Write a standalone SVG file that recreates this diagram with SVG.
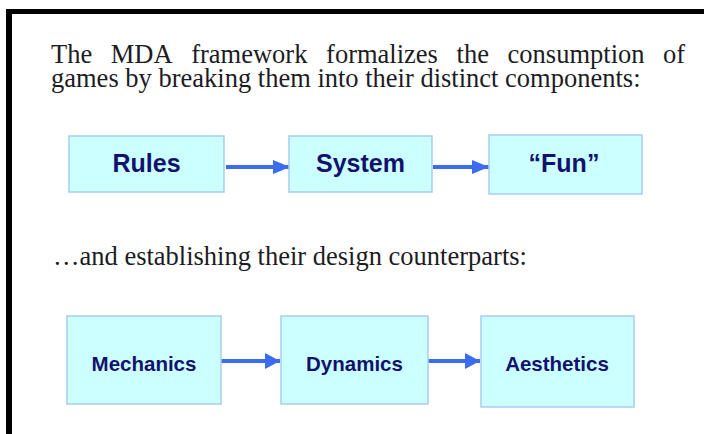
<svg xmlns="http://www.w3.org/2000/svg" width="704" height="434" viewBox="0 0 704 434">
  <style>
    .para { font-family: "Liberation Serif", "Times New Roman", serif; font-size: 26.5px; fill: #1c1c24; }
    .box { fill: #ccffff; stroke: #a8cdf2; stroke-width: 1.5; }
    .lbl { font-family: "Liberation Sans", Arial, sans-serif; font-weight: bold; fill: #12126e; text-anchor: middle; }
    .big { font-size: 25px; }
    .small { font-size: 20.5px; }
    .conn { stroke: #3b6cf0; stroke-width: 4; fill: none; }
  </style>
  <defs>
    <marker id="headTop" markerUnits="userSpaceOnUse" markerWidth="18" markerHeight="14" refX="17" refY="7" orient="auto">
      <path d="M0,0 L17,7 L0,14 Z" fill="#3b6cf0"/>
    </marker>
    <marker id="headBottom" markerUnits="userSpaceOnUse" markerWidth="16" markerHeight="16" refX="15" refY="8" orient="auto">
      <path d="M0,0 L15,8 L0,16 Z" fill="#3b6cf0"/>
    </marker>
  </defs>

  <rect x="0" y="0" width="704" height="434" fill="#ffffff"/>

  <!-- frame -->
  <g id="frame" fill="#000000">
    <rect x="6" y="9" width="698" height="5"/>
    <rect x="6" y="9" width="6" height="425"/>
  </g>

  <!-- intro text; first line is justified word by word -->
  <g id="intro">
    <text class="para" x="51" y="63">The</text>
    <text class="para" x="110.8" y="63">MDA</text>
    <text class="para" x="191.2" y="63">framework</text>
    <text class="para" x="326.1" y="63">formalizes</text>
    <text class="para" x="456.6" y="63">the</text>
    <text class="para" x="507.6" y="63">consumption</text>
    <text class="para" x="663.1" y="63">of</text>
    <text class="para" x="51" y="87">games by breaking them into their distinct components:</text>
    <text class="para" x="53" y="265">…and establishing their design counterparts:</text>
  </g>

  <!-- connectors -->
  <g id="connectors">
    <line class="conn" x1="226" y1="167" x2="290" y2="167" marker-end="url(#headTop)"/>
    <line class="conn" x1="433" y1="167" x2="489" y2="167" marker-end="url(#headTop)"/>
    <line class="conn" x1="221" y1="361" x2="280" y2="361" marker-end="url(#headBottom)"/>
    <line class="conn" x1="428" y1="361" x2="480" y2="361" marker-end="url(#headBottom)"/>
  </g>

  <!-- consumption view -->
  <g id="rules">
    <rect class="box" x="69" y="136" width="155" height="56"/>
    <text class="lbl big" x="146.5" y="172">Rules</text>
  </g>
  <g id="system">
    <rect class="box" x="289" y="136" width="143" height="56"/>
    <text class="lbl big" x="360.5" y="172">System</text>
  </g>
  <g id="fun">
    <rect class="box" x="489" y="135" width="153" height="59"/>
    <text class="lbl big" x="564" y="172">“Fun”</text>
  </g>

  <!-- design view -->
  <g id="mechanics">
    <rect class="box" x="67" y="316" width="154" height="88"/>
    <text class="lbl small" x="144" y="371">Mechanics</text>
  </g>
  <g id="dynamics">
    <rect class="box" x="281" y="316" width="147" height="88"/>
    <text class="lbl small" x="354.5" y="371">Dynamics</text>
  </g>
  <g id="aesthetics">
    <rect class="box" x="481" y="316" width="153" height="91"/>
    <text class="lbl small" x="557" y="371">Aesthetics</text>
  </g>
</svg>
